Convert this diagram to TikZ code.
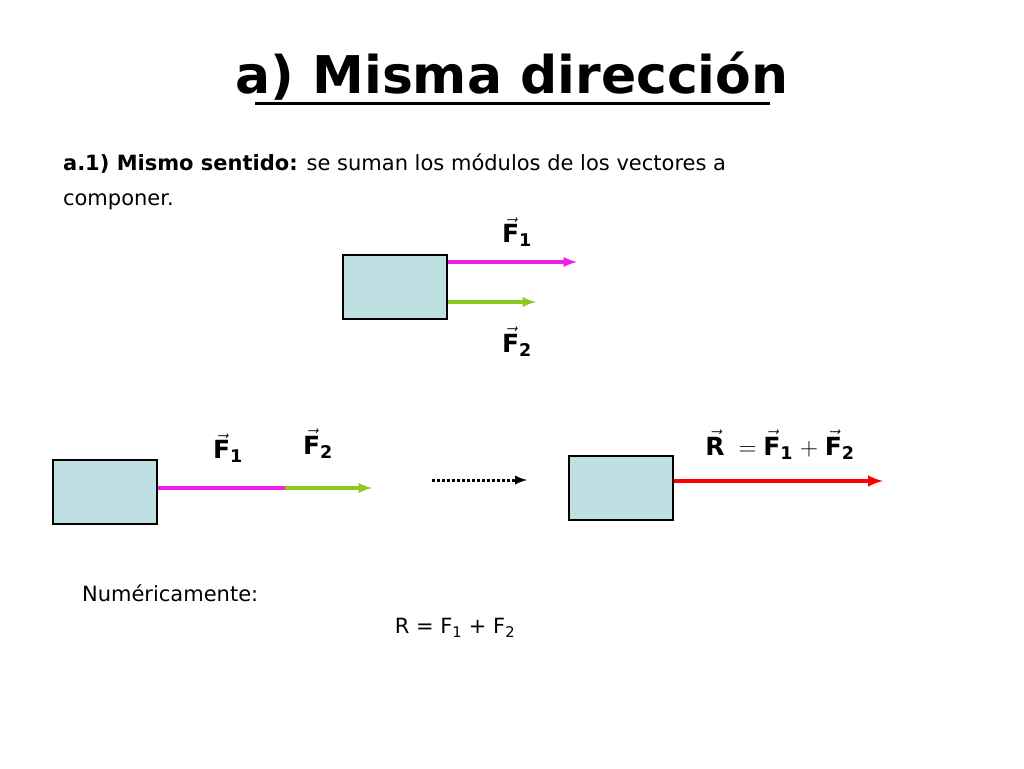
\documentclass[tikz,border=0pt]{standalone}
\usepackage{fontspec}
\setmainfont{DejaVu Sans}
\usetikzlibrary{positioning}
\newcommand{\vecF}[1]{$\vec{\textbf{F}}_{\mathbf{#1}}$}
\definecolor{boxblue}{HTML}{BFE0E3}
\definecolor{vmag}{HTML}{F01EE6}
\definecolor{vgreen}{HTML}{8CC81E}

\begin{document}
\begin{tikzpicture}[
                x=1pt, y=-1pt,
                > = latex, % arrow head style
                line width=3.5pt,
                body/.style = {draw=black, line width=1.2pt, fill=boxblue,
                    minimum width=104pt, minimum height=64pt},
                vlabel/.style = {font=\fontsize{25}{27}\selectfont\bfseries}
                ]
                \useasboundingbox (0,0) rectangle (1024,768);
                % title
                \node (title) at (512,76) {\fontsize{52}{56}\selectfont\bfseries a) Misma dirección};
                \draw[line width=3pt] (255,103) -- (770,103);
                \node[anchor=west, align=left, font=\fontsize{21}{35}\selectfont] (intro) at (58,182)
                {\textbf{a.1) Mismo sentido:} se suman los módulos de los vectores a\\componer.};

                % first body with both forces
                \node[body] (b1) at (395,287) {};
                \coordinate (b1a) at (b1.east |- 0,262);
                \coordinate (b1b) at (b1.east |- 0,302);
                \coordinate (f1e) at (577,262);
                \coordinate (f2e) at (536,302);
                \draw[->, vmag] (b1a) -- (f1e);
                \draw[->, vgreen] (b1b) -- (f2e);
                \node[vlabel] (l1) at (517,232) {\vecF{1}};
                \node[vlabel] (l2) at (517,342) {\vecF{2}};

                % forces one after another
                \node[body] (b2) at (105,492) {};
                \coordinate (b2a) at (b2.east |- 0,488);
                \coordinate (m2) at (285,488);
                \coordinate (e2) at (372,488);
                \draw[vmag] (b2a) -- (m2);
                \draw[->, vgreen] (m2) -- (e2);
                \node[vlabel] (l3) at (228,448) {\vecF{1}};
                \node[vlabel] (l4) at (318,444) {\vecF{2}};

                % dotted arrow
                \coordinate (d1) at (432,480);
                \coordinate (d2) at (527,480);
                \draw[->, dotted, line width=3pt] (d1) -- (d2);

                % resultant
                \node[body] (b3) at (621,488) {};
                \coordinate (b3a) at (b3.east |- 0,481);
                \coordinate (r3) at (883,481);
                \draw[->, red, line width=4pt] (b3a) -- (r3);
                \node[vlabel] (l5) at (780,445) {$\vec{\textbf{R}}\;=\;$\vecF{1}$\;+\;$\vecF{2}};

                % numeric
                \node[anchor=west, font=\fontsize{21}{24}\selectfont] (num) at (77,593) {Numéricamente:};
                \node[font=\fontsize{21}{24}\selectfont] (eq) at (455,628) {R = F\textsubscript{1} + F\textsubscript{2}};
\end{tikzpicture}
\end{document}
